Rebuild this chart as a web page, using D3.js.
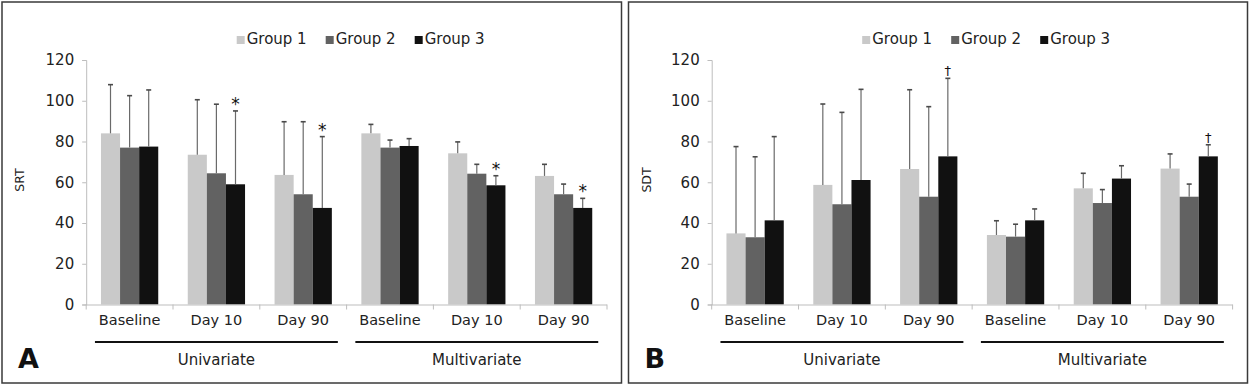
<!DOCTYPE html>
<html>
<head>
<meta charset="utf-8">
<script src="https://cdn.jsdelivr.net/npm/d3@7"></script>
<style>
  html, body { margin: 0; padding: 0; background: #fff; }
  svg { display: block; }
  text { font-family: "DejaVu Sans", sans-serif; }
</style>
</head>
<body>
<svg id="chart" width="1249" height="386"></svg>
<script>
// ---------- data ----------
const categoryLabels = ["Baseline", "Day 10", "Day 90", "Baseline", "Day 10", "Day 90"];
const methodLabels = ["Univariate", "Multivariate"];
const groupNames = ["Group 1", "Group 2", "Group 3"];
const yTicks = [0, 20, 40, 60, 80, 100, 120];

// Panel A: SRT (mean, SD)
const srtGroup1 = [84.0, 73.5, 63.6, 84.0, 74.2, 63.1];
const srtGroup2 = [77.0, 64.4, 54.1, 77.0, 64.2, 54.1];
const srtGroup3 = [77.5, 59.0, 47.4, 77.8, 58.5, 47.4];
const srtSD1 = [23.9, 27.0, 26.1, 4.4, 5.6, 5.7];
const srtSD2 = [25.5, 33.9, 35.6, 3.7, 4.6, 5.0];
const srtSD3 = [27.8, 36.0, 35.0, 3.6, 4.7, 4.7];
const srtMarkedCats = [1, 2, 4, 5];   // Group 3 marked with *

// Panel B: SDT (mean, SD)
const sdtGroup1 = [34.9, 58.7, 66.5, 34.1, 57.0, 66.7];
const sdtGroup2 = [33.0, 49.2, 52.9, 33.3, 49.8, 52.9];
const sdtGroup3 = [41.3, 61.1, 72.7, 41.3, 61.8, 72.7];
const sdtSD1 = [42.6, 39.7, 38.9, 7.0, 7.4, 7.2];
const sdtSD2 = [39.5, 45.1, 44.2, 6.1, 6.6, 6.2];
const sdtSD3 = [41.1, 44.5, 38.3, 5.6, 6.3, 5.7];
const sdtMarkedCats = [2, 5];          // Group 3 marked with †

const groupColors = ["#c9c9c9", "#626262", "#111111"];

// ---------- drawing ----------
const svg = d3.select("#chart");

function drawPanel(cfg) {
  const g = svg.append("g");
  // border
  g.append("rect")
    .attr("x", cfg.bx).attr("y", 2)
    .attr("width", cfg.bw).attr("height", 381)
    .attr("fill", "none").attr("stroke", "#3a3a3a").attr("stroke-width", 1.5);

  const x0 = cfg.ax0, x1 = cfg.ax1;
  const y = d3.scaleLinear().domain([0, 120]).range([304.5, 60]);
  const x = d3.scaleBand().domain(d3.range(categoryLabels.length))
    .range([x0, x1]).paddingInner(0.34).paddingOuter(0.17);
  const xg = d3.scaleBand().domain(d3.range(groupNames.length))
    .range([0, x.bandwidth()]);

  // y axis
  const yAxis = d3.axisLeft(y).tickValues(yTicks).tickSize(4).tickPadding(8);
  const ya = g.append("g").attr("transform", `translate(${x0},0)`).call(yAxis);
  ya.select(".domain").attr("stroke", "#bdbdbd");
  ya.selectAll(".tick line").attr("stroke", "#bdbdbd");
  ya.selectAll(".tick text").attr("font-family", "DejaVu Sans").attr("font-size", 15).attr("fill", "#222");

  // x axis line with boundary ticks
  const step = x.step();
  const boundaries = d3.range(categoryLabels.length + 1).map(i =>
    (i < categoryLabels.length ? x(i) - (step - x.bandwidth()) / 2 : x(i - 1) + x.bandwidth() + (step - x.bandwidth()) / 2));

  // bars
  const series = cfg.means.map((m, gi) => m.map((v, ci) => ({ ci, gi, v, sd: cfg.sds[gi][ci] })));
  series.forEach((s, gi) => {
    g.selectAll(null).data(s).enter().append("rect")
      .attr("x", d => x(d.ci) + xg(d.gi))
      .attr("y", d => y(d.v))
      .attr("width", xg.bandwidth())
      .attr("height", d => y(0) - y(d.v))
      .attr("fill", groupColors[gi]);
  });

  // error bars
  series.forEach(s => {
    const eg = g.selectAll(null).data(s).enter().append("g");
    eg.append("line")
      .attr("x1", d => x(d.ci) + xg(d.gi) + xg.bandwidth() / 2)
      .attr("x2", d => x(d.ci) + xg(d.gi) + xg.bandwidth() / 2)
      .attr("y1", d => y(d.v)).attr("y2", d => y(d.v + d.sd))
      .attr("stroke", "#6a6a6a").attr("stroke-width", 1.2);
    eg.append("line")
      .attr("x1", d => x(d.ci) + xg(d.gi) + xg.bandwidth() / 2 - 2.5)
      .attr("x2", d => x(d.ci) + xg(d.gi) + xg.bandwidth() / 2 + 2.5)
      .attr("y1", d => y(d.v + d.sd)).attr("y2", d => y(d.v + d.sd))
      .attr("stroke", "#4a4a4a").attr("stroke-width", 1.6);
  });

  // x axis
  g.append("line").attr("x1", x0).attr("x2", x1)
    .attr("y1", y(0) + 0.5).attr("y2", y(0) + 0.5)
    .attr("stroke", "#bdbdbd").attr("stroke-width", 1);
  g.selectAll(null).data(boundaries).enter().append("line")
    .attr("x1", d => d).attr("x2", d => d)
    .attr("y1", y(0)).attr("y2", y(0) + 5)
    .attr("stroke", "#bdbdbd");

  // markers
  g.selectAll(null).data(cfg.marked).enter().append("text")
    .attr("x", ci => x(ci) + xg(2) + xg.bandwidth() / 2)
    .attr("y", ci => y(cfg.means[2][ci] + cfg.sds[2][ci]) - cfg.markOffset)
    .attr("text-anchor", "middle")
    .attr("font-size", cfg.markSize)
    .attr("fill", "#111")
    .text(cfg.mark);

  // category labels
  g.selectAll(null).data(categoryLabels).enter().append("text")
    .attr("x", (d, i) => x(i) + x.bandwidth() / 2)
    .attr("y", 325)
    .attr("text-anchor", "middle")
    .attr("font-size", 14.5).attr("fill", "#222")
    .text(d => d);

  // method brackets
  methodLabels.forEach((m, mi) => {
    const a = x(mi * 3) - 6, b = x(mi * 3 + 2) + x.bandwidth() + 6;
    g.append("line").attr("x1", a).attr("x2", b)
      .attr("y1", 342).attr("y2", 342)
      .attr("stroke", "#111").attr("stroke-width", 2);
    g.append("text").attr("x", (a + b) / 2).attr("y", 365)
      .attr("text-anchor", "middle").attr("font-size", 15).attr("fill", "#222")
      .text(m);
  });

  // legend
  const legX = [150.5, 239.5, 328.5];
  groupNames.forEach((n, gi) => {
    g.append("rect").attr("x", x0 + legX[gi]).attr("y", 36)
      .attr("width", 8).attr("height", 8).attr("fill", groupColors[gi]);
    g.append("text").attr("x", x0 + legX[gi] + 10).attr("y", 44)
      .attr("font-size", 15).attr("fill", "#222").text(n);
  });

  // y label
  g.append("text")
    .attr("transform", `translate(${cfg.bx + 22},180) rotate(-90)`)
    .attr("text-anchor", "middle").attr("font-size", 12.5).attr("fill", "#222")
    .text(cfg.yLabel);

  // panel letter
  g.append("text").attr("x", cfg.bx + 16).attr("y", 368)
    .attr("font-size", 27).attr("font-weight", "bold").attr("fill", "#111")
    .text(cfg.letter);
}

drawPanel({
  bx: 2, bw: 619.5, ax0: 86.2, ax1: 607,
  means: [srtGroup1, srtGroup2, srtGroup3],
  sds: [srtSD1, srtSD2, srtSD3],
  marked: srtMarkedCats, mark: "*", markSize: 17, markOffset: 1,
  yLabel: "SRT", letter: "A"
});
drawPanel({
  bx: 628.5, bw: 619, ax0: 711.7, ax1: 1232.6,
  means: [sdtGroup1, sdtGroup2, sdtGroup3],
  sds: [sdtSD1, sdtSD2, sdtSD3],
  marked: sdtMarkedCats, mark: "†", markSize: 13, markOffset: 3,
  yLabel: "SDT", letter: "B"
});
</script>
</body>
</html>
